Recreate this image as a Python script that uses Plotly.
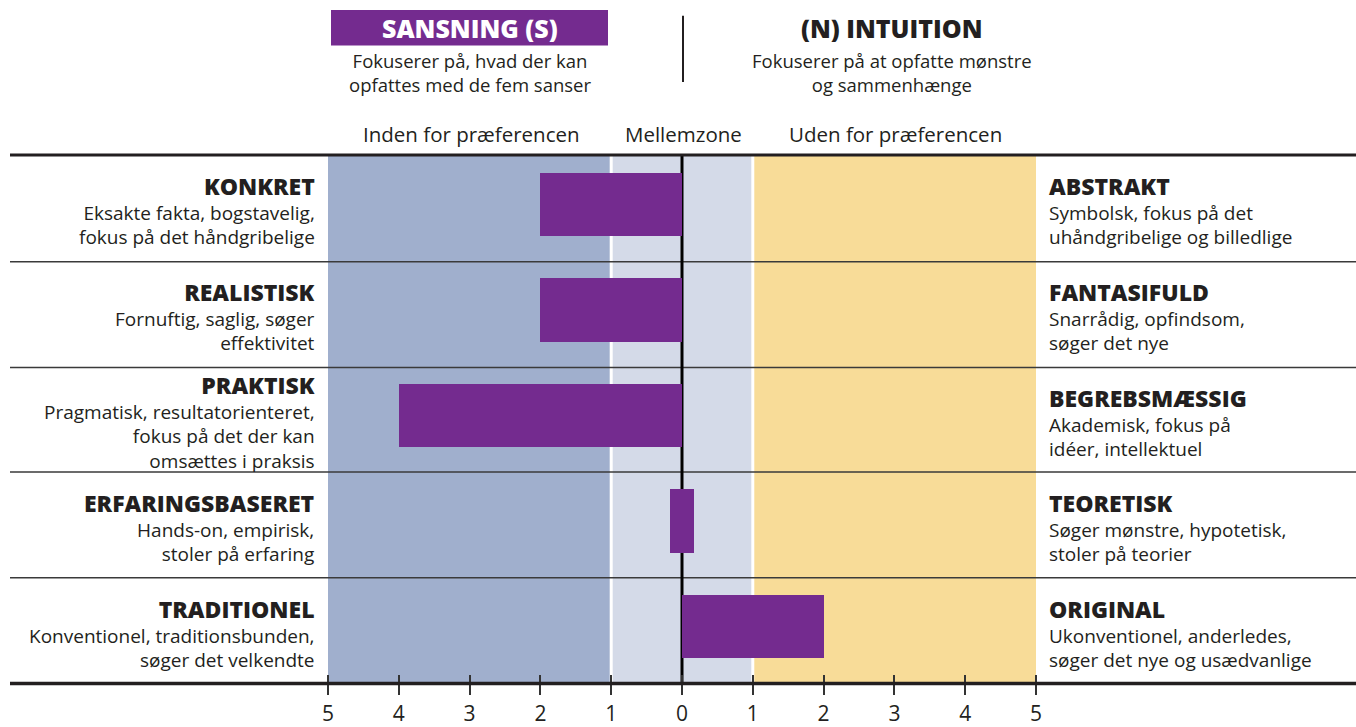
import plotly.graph_objects as go

# ---------------- data ----------------
left_titles = ["KONKRET", "REALISTISK", "PRAKTISK", "ERFARINGSBASERET", "TRADITIONEL"]
left_desc = [
    ["Eksakte fakta, bogstavelig,", "fokus på det håndgribelige"],
    ["Fornuftig, saglig, søger", "effektivitet"],
    ["Pragmatisk, resultatorienteret,", "fokus på det der kan", "omsættes i praksis"],
    ["Hands-on, empirisk,", "stoler på erfaring"],
    ["Konventionel, traditionsbunden,", "søger det velkendte"],
]
right_titles = ["ABSTRAKT", "FANTASIFULD", "BEGREBSMÆSSIG", "TEORETISK", "ORIGINAL"]
right_desc = [
    ["Symbolsk, fokus på det", "uhåndgribelige og billedlige"],
    ["Snarrådig, opfindsom,", "søger det nye"],
    ["Akademisk, fokus på", "idéer, intellektuel"],
    ["Søger mønstre, hypotetisk,", "stoler på teorier"],
    ["Ukonventionel, anderledes,", "søger det nye og usædvanlige"],
]
scores = [-2, -2, -4, 0, 2]
tick_vals = [-5, -4, -3, -2, -1, 0, 1, 2, 3, 4, 5]
tick_text = ["5", "4", "3", "2", "1", "0", "1", "2", "3", "4", "5"]
zone_labels = ["Inden for præferencen", "Mellemzone", "Uden for præferencen"]
left_head = "SANSNING (S)"
left_head_desc = ["Fokuserer på, hvad der kan", "opfattes med de fem sanser"]
right_head = "(N) INTUITION"
right_head_desc = ["Fokuserer på at opfatte mønstre", "og sammenhænge"]

# ---------------- styling ----------------
W, H = 1356, 727
FONT = "Open Sans"
PURPLE = "#742B8F"
BLUE = "#A0AFCD"
LIGHT = "#D4DAE8"
YELLOW = "#F8DC98"
TXT = "#231F20"
ZERO_W = 0.33  # visual width of a zero-score marker bar
DESC_SIZE = 19
TITLE_SIZE = 23


def py(p):
    return 1 - p / H


def px(p):
    return p / W


rows = list(range(len(scores)))
bar_x = [s if s != 0 else ZERO_W for s in scores]
bar_base = [0 if s != 0 else -ZERO_W / 2 for s in scores]

fig = go.Figure()
fig.add_trace(go.Bar(
    y=rows, x=bar_x, base=bar_base, orientation="h", width=0.6,
    marker=dict(color=PURPLE, line=dict(width=0)), showlegend=False, hoverinfo="skip",
))

shapes = []
top_px, bot_px = 157, 692
for x0, x1, c in [(-5, -1, BLUE), (-1, 1, LIGHT), (1, 5, YELLOW)]:
    shapes.append(dict(type="rect", xref="x", yref="paper", x0=x0, x1=x1,
                       y0=py(bot_px), y1=py(top_px), fillcolor=c, line=dict(width=0), layer="below"))
for xv in (-1, 1):
    shapes.append(dict(type="line", xref="x", yref="paper", x0=xv, x1=xv,
                       y0=py(bot_px), y1=py(top_px), line=dict(color="white", width=3), layer="below"))
for p in (265, 372, 478, 585):
    shapes.append(dict(type="line", xref="paper", yref="paper", x0=px(10), x1=1,
                       y0=py(p), y1=py(p), line=dict(color="#3a3a3a", width=1.5), layer="below"))
shapes.append(dict(type="line", xref="x", yref="paper", x0=0, x1=0,
                   y0=py(bot_px), y1=py(top_px), line=dict(color="black", width=3), layer="below"))
for p, w in ((top_px, 3), (bot_px, 3.5)):
    shapes.append(dict(type="line", xref="paper", yref="paper", x0=px(10), x1=1,
                       y0=py(p), y1=py(p), line=dict(color=TXT, width=w), layer="above"))
shapes.append(dict(type="rect", xref="paper", yref="paper", x0=px(331), x1=px(608),
                   y0=py(46), y1=py(10), fillcolor=PURPLE, line=dict(width=0)))
shapes.append(dict(type="line", xref="paper", yref="paper", x0=px(683), x1=px(683),
                   y0=py(83), y1=py(16), line=dict(color=TXT, width=2)))

ann = []


def text(x, y, s, size, anchor="center", color=TXT, weight="normal", yanchor="middle", align=None):
    ann.append(dict(xref="paper", yref="paper", x=px(x), y=py(y), text=s,
                    showarrow=False, xanchor=anchor, yanchor=yanchor, align=align or anchor,
                    font=dict(family=FONT, size=size, color=color, weight=weight)))


# header
text(470, 28, left_head, 25, color="white", weight=800)
text(470, 73, "<br>".join(left_head_desc), DESC_SIZE - 0.5)
text(892, 28, right_head, 25, weight=800)
text(892, 73, "<br>".join(right_head_desc), DESC_SIZE - 0.5)
for s, xc in zip(zone_labels, (471, 683, 895)):
    text(xc, 136, s, 20.5)

for i in rows:
    c = 213 + 106.9 * i
    for titles, descs, xx, anc in ((left_titles, left_desc, 317, "right"), (right_titles, right_desc, 1047, "left")):
        block = (f"<span style='font-size:{TITLE_SIZE}px;font-weight:800'>{titles[i]}</span><br>"
                 + "<br>".join(descs[i]))
        text(xx, c, block, DESC_SIZE, anchor=anc)

x_range = [-5 - 328 / 70.8, 5 + (W - 1036) / 70.8]
y_range = [(H - 207) / 106.9, -207 / 106.9]
axis_pos = py(bot_px)

fig.update_layout(
    width=W, height=H, margin=dict(l=0, r=0, t=0, b=0),
    plot_bgcolor="white", paper_bgcolor="white",
    shapes=shapes, annotations=ann, bargap=0,
    xaxis=dict(range=x_range, anchor="free", position=axis_pos, tickvals=tick_vals, ticktext=tick_text,
               ticks="outside", ticklen=11, tickwidth=1.5, tickcolor="#333",
               showgrid=False, zeroline=False, showline=False, fixedrange=True,
               tickfont=dict(family=FONT, size=21, color=TXT)),
    xaxis2=dict(range=x_range, overlaying="x", anchor="free", position=axis_pos, side="bottom",
                tickvals=tick_vals, showticklabels=False, ticks="inside", ticklen=8, tickwidth=1.5,
                tickcolor="#333", showgrid=False, zeroline=False, showline=False, fixedrange=True),
    yaxis=dict(range=y_range, visible=False, fixedrange=True),
)
fig.add_trace(go.Scatter(x=[0], y=[0], xaxis="x2", mode="markers", marker=dict(opacity=0),
                         showlegend=False, hoverinfo="skip"))

post = ("document.documentElement.style.margin='0';document.documentElement.style.overflow='hidden';"
        "document.body.style.margin='0';document.body.style.overflow='hidden';"
        "var d=document.getElementsByClassName('plotly-graph-div');"
        "for(var k=0;k<d.length;k++){d[k].style.display='block';}")
fig.write_html("out.html", config={"displayModeBar": False}, post_script=post)
